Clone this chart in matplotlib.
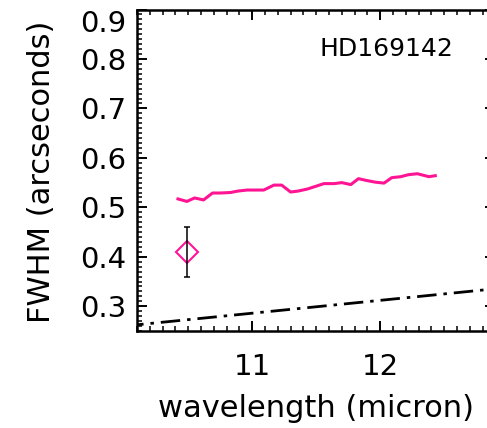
import matplotlib
matplotlib.use("Agg")
import matplotlib.pyplot as plt
from matplotlib.ticker import MultipleLocator

# measured FWHM vs wavelength
wave = [10.42, 10.49, 10.55, 10.62, 10.69, 10.75, 10.83, 10.89, 10.96, 11.02,
        11.09, 11.17, 11.23, 11.30, 11.36, 11.43, 11.49, 11.56, 11.64, 11.70,
        11.77, 11.83, 11.90, 11.96, 12.03, 12.09, 12.16, 12.22, 12.29, 12.38,
        12.43]
fwhm = [0.517, 0.512, 0.519, 0.515, 0.529, 0.529, 0.530, 0.533, 0.535, 0.535,
        0.535, 0.545, 0.545, 0.531, 0.533, 0.537, 0.542, 0.548, 0.548, 0.550,
        0.546, 0.558, 0.554, 0.551, 0.549, 0.560, 0.562, 0.566, 0.568, 0.562,
        0.564]

# single point with error bar
point_wave = [10.49]
point_fwhm = [0.41]
point_err = [0.05]

# diffraction limit
diff_wave = [10.0, 13.0]
diff_fwhm = [0.260, 0.338]

pink = "#ff1493"

plt.rcParams["font.family"] = "DejaVu Sans"
plt.rcParams["lines.scale_dashes"] = False

fig = plt.figure(figsize=(4.87, 4.28), dpi=100)
ax = fig.add_axes([0.2813, 0.2266, 0.736, 0.7512])

ax.plot(wave, fwhm, color=pink, linewidth=2.2)
ax.plot(point_wave, point_fwhm, "D", mfc="none", mec=pink, ms=11, mew=1.5, zorder=2)
ax.errorbar(point_wave, point_fwhm, yerr=point_err, fmt="none", ecolor="black",
            elinewidth=1.1, capsize=2.2, capthick=1.1, zorder=3)
ax.plot(diff_wave, diff_fwhm, color="black", linewidth=2.0,
        dashes=[14, 5, 2.5, 5])

ax.text(12.05, 0.82, "HD169142", fontsize=18, ha="center", va="center")

ax.set_xlim(10.1, 12.9)
ax.set_ylim(0.25, 0.9)
ax.set_xticks([11, 12])
ax.set_yticks([0.3, 0.4, 0.5, 0.6, 0.7, 0.8, 0.9])
ax.set_yticklabels(["0.3", "0.4", "0.5", "0.6", "0.7", "0.8", "0.9"])
ax.xaxis.set_minor_locator(MultipleLocator(0.1))
ax.yaxis.set_minor_locator(MultipleLocator(0.01))

ax.tick_params(which="both", direction="in", top=True, right=True,
               labelsize=21, colors="black")
ax.tick_params(which="major", length=7, width=1.4)
ax.tick_params(which="minor", length=3.5, width=1.1)
ax.tick_params(axis="x", pad=16)
ax.tick_params(axis="y", pad=8)
for s in ax.spines.values():
    s.set_linewidth(1.8)

# top label sits below its tick like IDL does
ax.yaxis.get_major_ticks()[-1].label1.set_va("top")

ax.set_xlabel("wavelength (micron)", fontsize=22)
ax.set_ylabel("FWHM (arcseconds)", fontsize=22)
ax.xaxis.set_label_coords(0.5, -0.195)
ax.yaxis.set_label_coords(-0.225, 0.494)

fig.savefig("out.png", dpi=100)
